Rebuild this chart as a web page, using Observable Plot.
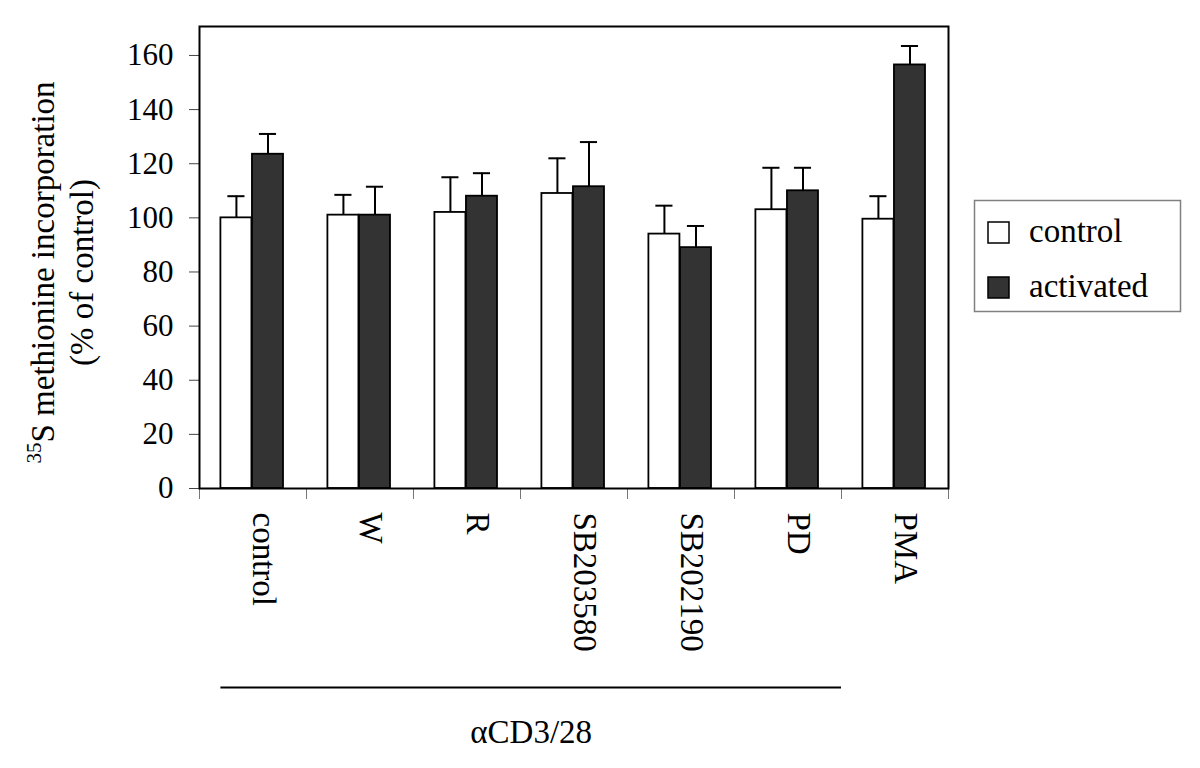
<!DOCTYPE html>
<html>
<head>
<meta charset="utf-8">
<script src="https://cdn.jsdelivr.net/npm/d3@7"></script>
<script src="https://cdn.jsdelivr.net/npm/@observablehq/plot@0.6"></script>
<style>
  html, body { margin: 0; padding: 0; background: white; }
  #chart { width: 1200px; height: 768px; }
</style>
</head>
<body>
<div id="chart"></div>
<script>
// ---- data ----
const categories = ["control", "W", "R", "SB203580", "SB202190", "PD", "PMA"];
const seriesNames = ["control", "activated"];
const controlMean = [100, 101, 102, 109, 94, 103, 99.5];
const controlSD = [8, 7.5, 13, 13, 10.5, 15.5, 8.5];
const activatedMean = [123.5, 101, 108, 111.5, 89, 110, 156.5];
const activatedSD = [7.5, 10.5, 8.5, 16.5, 8, 8.5, 7];
const yTicks = [0, 20, 40, 60, 80, 100, 120, 140, 160];
const yTitle1 = "35S methionine incorporation";
const yTitle2 = "(% of control)";
const treatedGroup = categories.slice(0, 6); // under the αCD3/28 bracket
const treatedLabel = "αCD3/28";

// ---- layout constants ----
const barOffset = {control: 0.2, activated: 0.495};
const barW = 0.29;
const capHalf = 0.08;
const FONT = "'Liberation Serif', 'Times New Roman', serif";

const rows = categories.flatMap((cat, i) => [
  {cat, i, series: "control", mean: controlMean[i], sd: controlSD[i]},
  {cat, i, series: "activated", mean: activatedMean[i], sd: activatedSD[i]}
]);
const catRows = categories.map((cat, i) => ({cat, i}));
const center = d => d.i + barOffset[d.series] + barW / 2;

const chart = Plot.plot({
  width: 1200,
  height: 768,
  marginLeft: 199,
  marginRight: 252,
  marginTop: 26,
  marginBottom: 280,
  x: {domain: [0, categories.length], axis: null},
  y: {domain: [0, 170.7], axis: null},
  color: {domain: seriesNames, range: ["white", "#333333"]},
  style: {fontFamily: FONT, fontSize: "33px", background: "white", color: "black"},
  marks: [
    Plot.rect(rows, {
      x1: d => d.i + barOffset[d.series],
      x2: d => d.i + barOffset[d.series] + barW,
      y1: 0, y2: "mean",
      fill: "series", stroke: "black", strokeWidth: 1.8
    }),
    Plot.ruleX(rows, {x: center, y1: "mean", y2: d => d.mean + d.sd, stroke: "black", strokeWidth: 2}),
    Plot.ruleY(rows, {y: d => d.mean + d.sd, x1: d => center(d) - capHalf, x2: d => center(d) + capHalf, stroke: "black", strokeWidth: 2}),
    Plot.axisY({ticks: yTicks, tickSize: 10, tickPadding: 16, fontSize: 31, stroke: "#444", label: null, tickFormat: d => String(d)}),
    Plot.axisX({ticks: d3.range(0, categories.length + 1), tickSize: 11, tickFormat: () => "", label: null, stroke: "#777"}),
    Plot.frame({stroke: "black", strokeWidth: 2}),
    Plot.text(catRows, {x: d => d.i + 0.5, text: "cat", frameAnchor: "bottom", rotate: 90, textAnchor: "start", dy: 24, fontSize: 33}),
    Plot.ruleY([0], {x1: barOffset.control, x2: treatedGroup.length, dy: 199, stroke: "black", strokeWidth: 2}),
    Plot.text([treatedLabel], {x: (barOffset.control + treatedGroup.length) / 2, text: d => d, frameAnchor: "bottom", dy: 254, fontSize: 33}),
    Plot.text([yTitle1], {text: d => d, frameAnchor: "left", rotate: -90, textAnchor: "start", dx: -156, dy: 206, fontSize: 33}),
    Plot.text([yTitle2], {text: d => d, frameAnchor: "left", rotate: -90, textAnchor: "middle", dx: -117, dy: 15, fontSize: 33})
  ]
});

// superscript "35" in the y title
d3.select(chart).selectAll("text").filter(function() { return this.textContent === yTitle1; })
  .each(function() {
    const t = d3.select(this);
    t.text(null);
    t.append("tspan").attr("font-size", 21).attr("dy", -13).text(yTitle1.slice(0, 2));
    t.append("tspan").attr("dy", 13).text(yTitle1.slice(2));
  });

// legend
const lg = d3.select(chart).append("g").attr("font-family", FONT).attr("font-size", 33).attr("text-anchor", "start");
lg.append("rect").attr("x", 974.5).attr("y", 200.5).attr("width", 206).attr("height", 111)
  .attr("fill", "white").attr("stroke", "#808080").attr("stroke-width", 1.5);
const fills = ["white", "#333333"];
seriesNames.forEach((s, k) => {
  lg.append("rect").attr("x", 988).attr("y", 222 + k * 55).attr("width", 21).attr("height", 21)
    .attr("fill", fills[k]).attr("stroke", "black").attr("stroke-width", 1.5);
  lg.append("text").attr("x", 1029).attr("y", 242 + k * 55).attr("fill", "black").attr("text-anchor", "start").text(s);
});

document.getElementById("chart").appendChild(chart);
</script>
</body>
</html>
